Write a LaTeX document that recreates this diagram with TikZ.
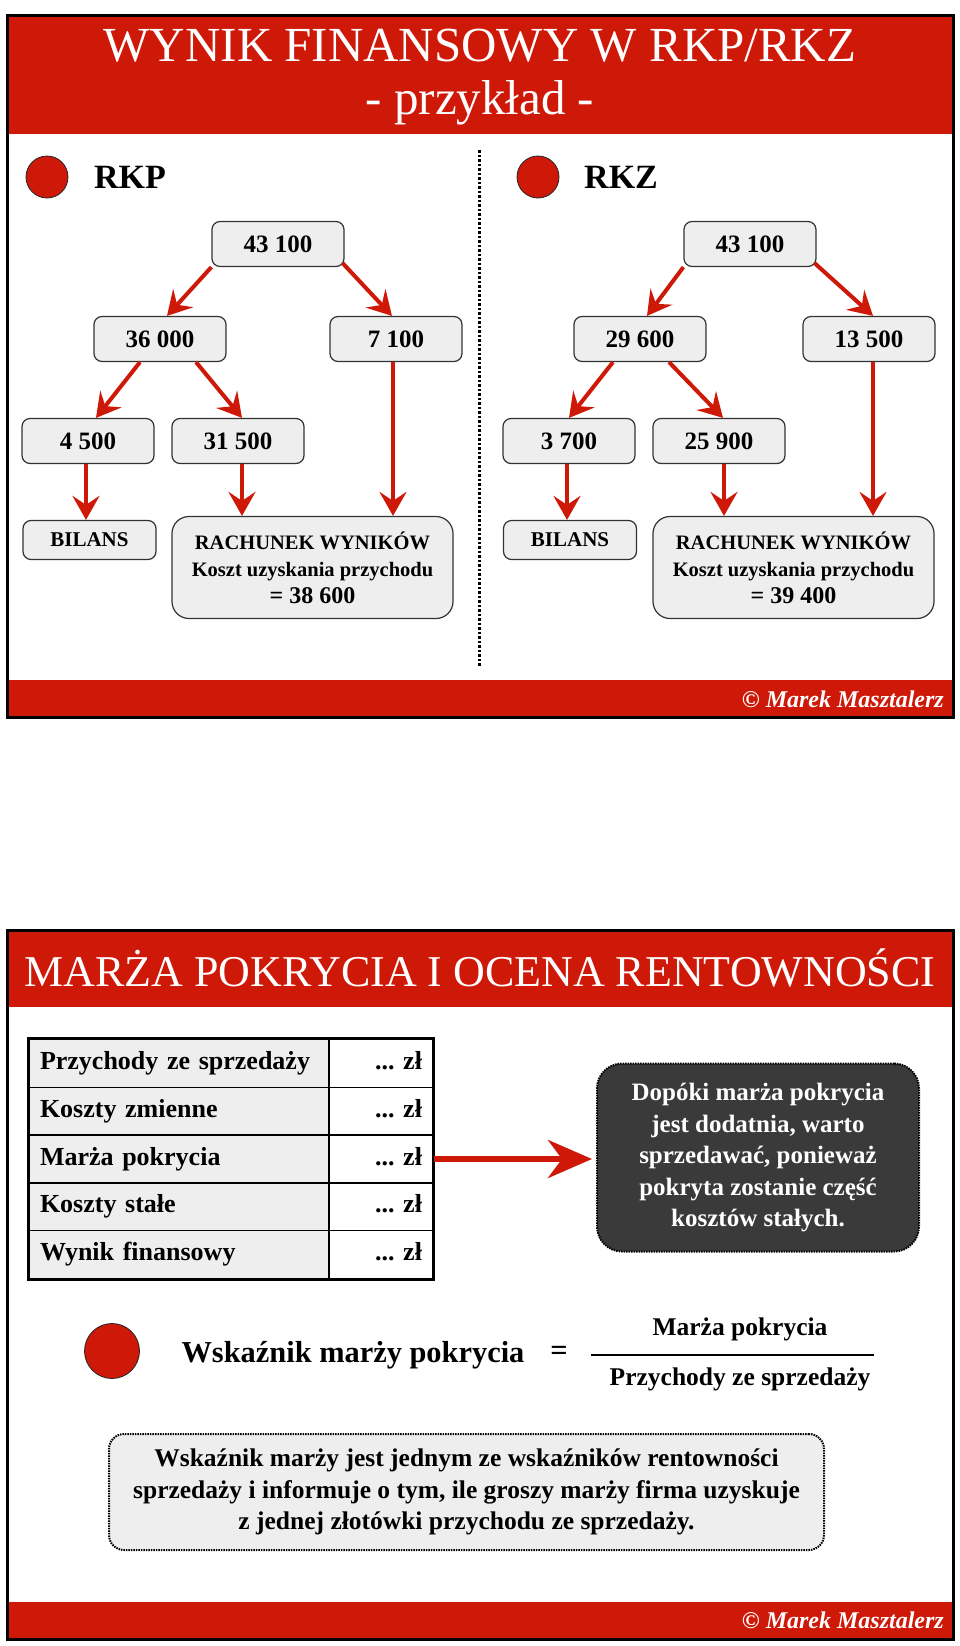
\documentclass[tikz,border=0pt]{standalone}
\usepackage{fontspec}
\setmainfont{Liberation Serif}
\usetikzlibrary{arrows.meta,calc}
\definecolor{mainred}{RGB}{206,24,8}
\definecolor{boxgray}{RGB}{238,238,238}
\definecolor{darkbox}{RGB}{58,58,58}
\newcommand{\myfs}[2]{\fontsize{#1}{#2}\selectfont}
\frenchspacing
\tikzset{
  titletext/.style={text=white, inner sep=0pt, font=\myfs{49}{56}},
  title2text/.style={text=white, inner sep=0pt, font=\myfs{44}{50}},
  secttext/.style={inner sep=0pt, anchor=west, font=\myfs{34}{40}\bfseries},
  dot/.style={circle, fill=mainred, draw=black!85, line width=0.8pt, minimum size=42pt, inner sep=0pt},
  numbox/.style={draw=black!80, line width=1.2pt, fill=boxgray, rounded corners=8pt, minimum width=132pt, minimum height=45pt, inner sep=0pt, font=\myfs{25}{29}\bfseries},
  bilbox/.style={numbox, minimum width=133pt, minimum height=39pt, font=\myfs{21}{25}\bfseries},
  rachbox/.style={draw=black!80, line width=1.2pt, fill=boxgray, rounded corners=17pt, minimum width=281pt, minimum height=102pt, inner sep=0pt, align=center, font=\myfs{20.5}{27}\bfseries},
  arr/.style={draw=mainred, line width=4pt, -{Stealth[length=24pt,width=27pt,inset=9pt]}},
  bigarr/.style={draw=mainred, line width=6pt, -{Stealth[length=44pt,width=38pt,inset=14pt]}},
  dotline/.style={line width=3pt, dash pattern=on 2.5pt off 2pt},
  copytext/.style={text=white, inner sep=0pt, anchor=east, font=\myfs{24}{28}\bfseries\itshape},
  lcell/.style={draw=black, line width=1.5pt, fill=boxgray, minimum width=300pt, minimum height=47.8pt, text width=278pt, align=left, inner sep=0pt, text height=18pt, text depth=6pt, font=\myfs{26}{30}\bfseries},
  rcell/.style={draw=black, line width=1.5pt, fill=white, minimum width=104pt, minimum height=47.8pt, text width=82pt, align=right, inner sep=0pt, text height=18pt, text depth=6pt, font=\myfs{26}{30}\bfseries},
  darknode/.style={fill=darkbox, draw=black, line width=2pt, dash pattern=on 1.5pt off 1pt, rounded corners=25pt, minimum width=322pt, minimum height=188pt, inner sep=0pt, align=center, text=white, font=\myfs{25}{31.5}\bfseries},
  formtext/.style={inner sep=0pt, font=\myfs{30.4}{36}\bfseries},
  fractext/.style={inner sep=0pt, font=\myfs{25.5}{30}\bfseries},
  notebox/.style={fill=boxgray, draw=black, line width=2pt, dash pattern=on 1.5pt off 1pt, rounded corners=15pt, minimum width=715pt, minimum height=116pt, inner sep=0pt, align=center, font=\myfs{25.5}{31.5}\bfseries}
}
\begin{document}
\begin{tikzpicture}[x=1pt,y=-1pt]
\useasboundingbox (0,0) rectangle (960,1646);
\fill[white] (0,0) rectangle (960,1646);

% ================= TOP SLIDE =================
\fill[mainred] (7,16) rectangle (953,134);
\fill[mainred] (7,680) rectangle (953,717);
\draw[line width=3pt] (7,16) rectangle (953,717);

\node[titletext] (t1) at (480,46) {WYNIK FINANSOWY W RKP/RKZ};
\node[titletext] (t2) at (480,103) {- przykład -};

\node[dot] (d1) at (47,177) {};
\node[secttext] (rkp) at (94,177) {RKP};
\node[dot] (d2) at (538,177) {};
\node[secttext] (rkz) at (584,177) {RKZ};

\coordinate (dtop) at (479,150);
\coordinate (dbot) at (479,667);
\draw[dotline] (dtop) -- (dbot);

% left tree
\node[numbox] (n43L) at (278,244) {43 100};
\node[numbox] (n36L) at (160,339) {36 000};
\node[numbox] (n71L) at (396,339) {7 100};
\node[numbox] (n45L) at (88,441) {4 500};
\node[numbox] (n315L) at (238,441) {31 500};
\node[bilbox] (bilL) at (89.5,540) {BILANS};
\node[rachbox] (rachL) at (312.5,567.5) {RACHUNEK WYNIKÓW\\Koszt uzyskania przychodu\\{\myfs{24}{28}= 38 600}};

\draw[arr] (n43L.south west) -- ([xshift=7pt]n36L.north);
\draw[arr] ([shift={(-2pt,4pt)}]n43L.south east) -- ([xshift=-4pt]n71L.north);
\draw[arr] ([xshift=-20pt]n36L.south) -- ([xshift=8pt]n45L.north);
\draw[arr] ([xshift=36pt]n36L.south) -- ([xshift=4pt]n315L.north);
\draw[arr] ([xshift=-2pt]n45L.south) -- ([xshift=-2pt]n45L.south |- bilL.north);
\draw[arr] ([xshift=4pt]n315L.south) -- ([xshift=4pt]n315L.south |- rachL.north);
\draw[arr] ([xshift=-3pt]n71L.south) -- ([xshift=-3pt]n71L.south |- rachL.north);

% right tree
\node[numbox] (n43R) at (750,244) {43 100};
\node[numbox] (n296R) at (640,339) {29 600};
\node[numbox] (n135R) at (869,339) {13 500};
\node[numbox] (n37R) at (569,441) {3 700};
\node[numbox] (n259R) at (719,441) {25 900};
\node[bilbox] (bilR) at (570,540) {BILANS};
\node[rachbox] (rachR) at (793.5,567.5) {RACHUNEK WYNIKÓW\\Koszt uzyskania przychodu\\{\myfs{24}{28}= 39 400}};

\draw[arr] (n43R.south west) -- ([xshift=7pt]n296R.north);
\draw[arr] ([shift={(-2pt,4pt)}]n43R.south east) -- ([xshift=4pt]n135R.north);
\draw[arr] ([xshift=-27pt]n296R.south) -- ([xshift=0pt]n37R.north);
\draw[arr] ([xshift=29pt]n296R.south) -- ([xshift=4pt]n259R.north);
\draw[arr] ([xshift=-2pt]n37R.south) -- ([xshift=-2pt]n37R.south |- bilR.north);
\draw[arr] ([xshift=5pt]n259R.south) -- ([xshift=5pt]n259R.south |- rachR.north);
\draw[arr] ([xshift=4pt]n135R.south) -- ([xshift=4pt]n135R.south |- rachR.north);

\node[copytext] (copy1) at (944,699) {© Marek Masztalerz};

% ================= BOTTOM SLIDE =================
\fill[mainred] (7,930) rectangle (953,1007);
\fill[mainred] (7,1602) rectangle (953,1639);
\draw[line width=3pt] (7,930) rectangle (953,1639);

\node[title2text] (t3) at (480,968) {MARŻA POKRYCIA I OCENA RENTOWNOŚCI};

% table
\node[lcell] (l1) at (179,1063.4) {Przychody ze sprzedaży};
\node[lcell] (l2) at (179,1111.2) {Koszty zmienne};
\node[lcell] (l3) at (179,1159.0) {Marża pokrycia};
\node[lcell] (l4) at (179,1206.8) {Koszty stałe};
\node[lcell] (l5) at (179,1254.6) {Wynik finansowy};
\node[rcell] (r1) at (381,1063.4) {...\ zł};
\node[rcell] (r2) at (381,1111.2) {...\ zł};
\node[rcell] (r3) at (381,1159.0) {...\ zł};
\node[rcell] (r4) at (381,1206.8) {...\ zł};
\node[rcell] (r5) at (381,1254.6) {...\ zł};
\draw[line width=3pt] (l1.north west) rectangle (r5.south east);

\node[darknode] (dark) at (758,1157.5) {Dopóki marża pokrycia\\jest dodatnia, warto\\sprzedawać, ponieważ\\pokryta zostanie część\\kosztów stałych.};
\draw[bigarr, shorten >=4pt] (r3.east) -- (r3.east -| dark.west);

% formula
\node[dot, minimum size=55pt] (d3) at (112,1351) {};
\node[formtext] (wsk) at (353,1355) {Wskaźnik marży pokrycia};
\node[formtext] (eq) at (559,1353) {=};
\node[fractext] (num) at (740,1329) {Marża pokrycia};
\node[fractext] (den) at (740,1379) {Przychody ze sprzedaży};
\coordinate (fl) at (591,1355);
\coordinate (fr) at (874,1355);
\draw[line width=2.5pt] (fl) -- (fr);

\node[notebox] (note) at (466.5,1492) {Wskaźnik marży jest jednym ze wskaźników rentowności\\sprzedaży i informuje o tym, ile groszy marży firma uzyskuje\\z jednej złotówki przychodu ze sprzedaży.};

\node[copytext] (copy2) at (944,1620) {© Marek Masztalerz};
\end{tikzpicture}
\end{document}
